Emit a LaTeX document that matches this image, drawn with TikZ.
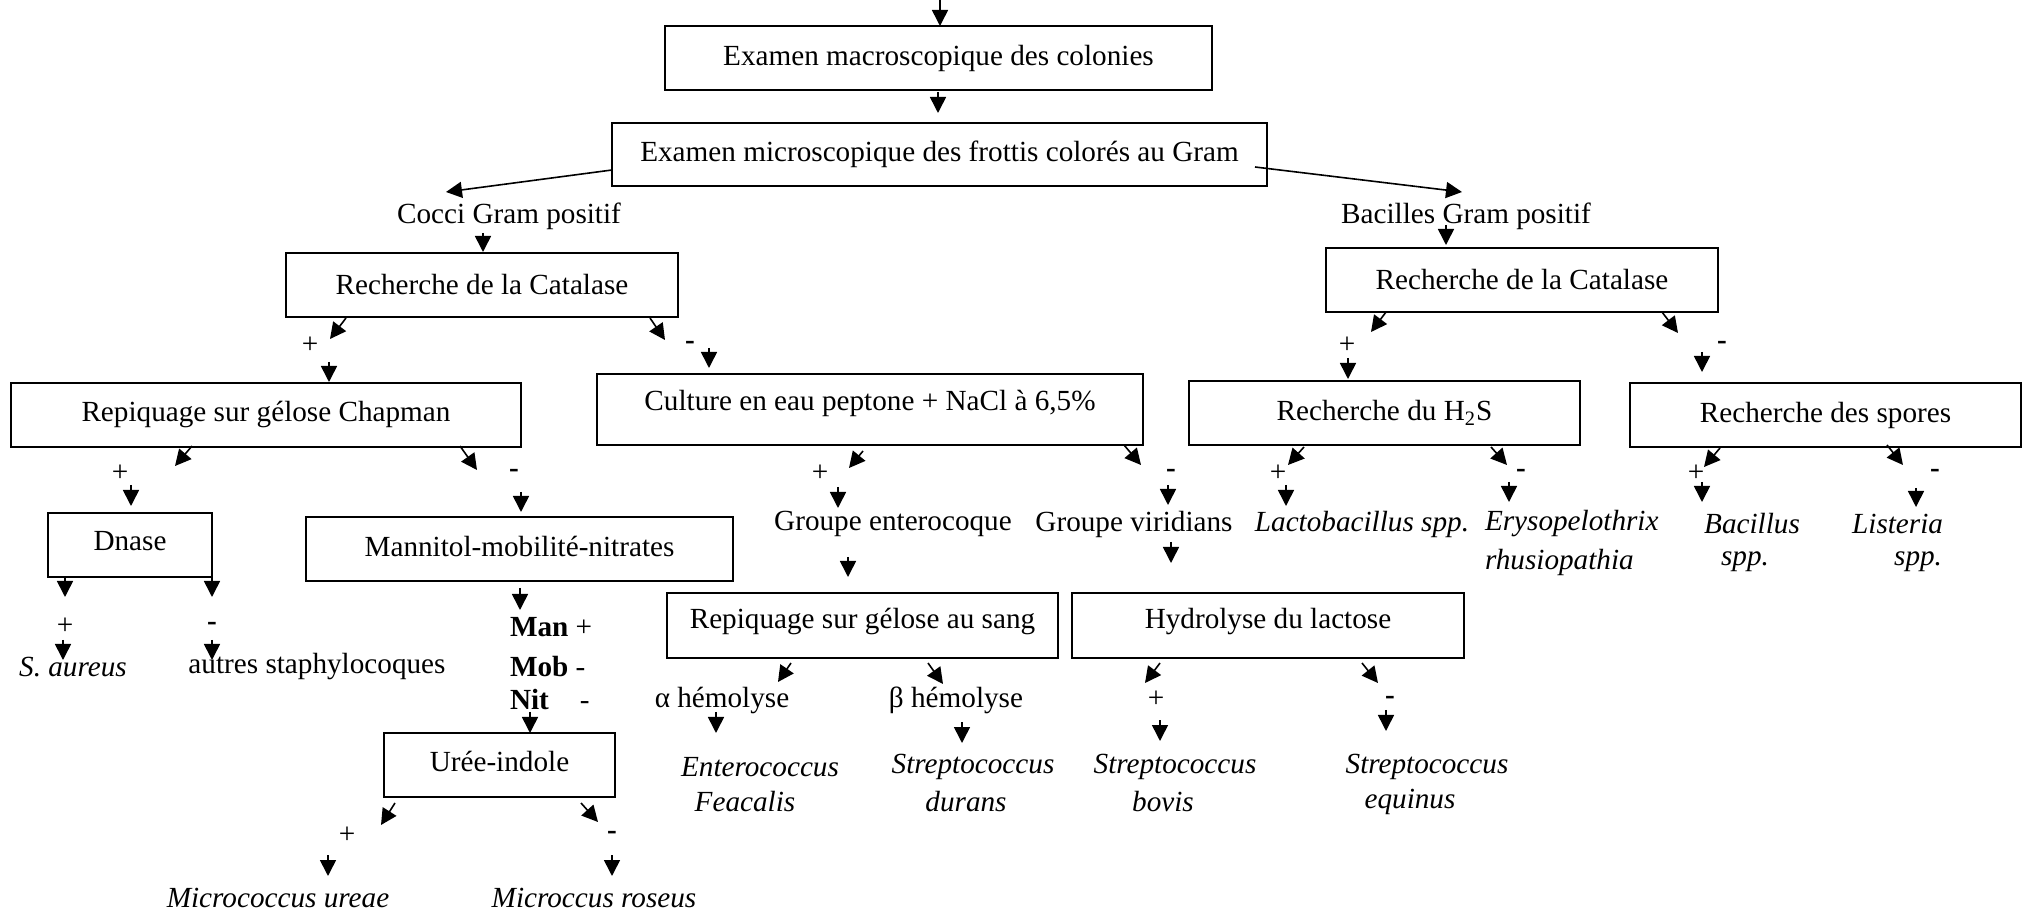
\documentclass[tikz,border=0pt]{standalone}
\usepackage{fontspec}
\setmainfont{Liberation Serif}
\usetikzlibrary{arrows.meta}
\newcommand\mybox[6]{\node[boxn, minimum width=#4*0.5pt, minimum height=#5*0.5pt] (#1) at (#2,#3) {#6};}
\begin{document}
\begin{tikzpicture}[x=0.5pt,y=-0.5pt,
  every node/.style={font=\fontsize{14.6}{17.5}\selectfont, inner sep=0pt, outer sep=0pt},
  boxn/.style={draw, line width=1pt, fill=white},
  arr/.style={line width=0.8pt, -{Triangle[length=8pt,width=8pt]}},
  sp/.style={font=\fontsize{14.6}{17.5}\selectfont\itshape},
  sgn/.style={font=\fontsize{14.6}{17.5}\selectfont\bfseries}
]
\useasboundingbox (0,0) rectangle (2026,914);

% boxes
\mybox{macro}{938.5}{58}{547}{64}{Examen macroscopique des colonies}
\mybox{micro}{939.5}{154.5}{655}{63}{Examen microscopique des frottis colorés au Gram}
\mybox{catL}{482}{285}{392}{64}{Recherche de la Catalase}
\mybox{catR}{1522}{280}{392}{64}{Recherche de la Catalase}
\mybox{chap}{266}{415}{510}{64}{Repiquage sur gélose Chapman}
\mybox{cult}{870}{409.5}{546}{71}{}
\node (culttxt) at (870,403) {Culture en eau peptone + NaCl à 6,5\%};
\mybox{hts}{1384.5}{413}{391}{64}{Recherche du H\textsubscript{2}S}
\mybox{spor}{1825.5}{415}{391}{64}{Recherche des spores}
\mybox{dnase}{130}{545}{164}{64}{}
\node (dnasetxt) at (130,541) {Dnase};
\mybox{mmn}{519.5}{549}{427}{64}{}
\node (mmntxt) at (519.5,546) {Mannitol-mobilité-nitrates};
\mybox{sang}{862.5}{625.5}{391}{65}{}
\node (sangtxt) at (862.5,622) {Repiquage sur gélose au sang};
\mybox{hydro}{1268}{625.5}{392}{65}{}
\node (hydrotxt) at (1268,622) {Hydrolyse du lactose};
\mybox{uree}{499.5}{765}{231}{64}{}
\node (ureetxt) at (499.5,761) {Urée-indole};

% text labels
\node (cocci) at (509,216) {Cocci Gram positif};
\node (bacil) at (1466,216) {Bacilles Gram positif};
\node (gent) at (893,524) {Groupe enterocoque};
\node (gvir) at (1134,524) {Groupe viridians};
\node[sp] (lacto) at (1362,524) {Lactobacillus spp.};
\node[sp, anchor=west] (ery1) at (1485,524) {Erysopelothrix};
\node[sp, anchor=west] (ery2) at (1485,562) {rhusiopathia};
\node[sp] (bac1) at (1752,524) {Bacillus};
\node[sp] (bac2) at (1745,562) {spp.};
\node[sp, anchor=east] (lis1) at (1943,524) {Listeria};
\node[sp, anchor=east] (lis2) at (1942,562) {spp.};
\node[sp] (saur) at (73,667) {S. aureus};
\node (autres) at (317,667) {autres staphylocoques};
\node[anchor=west] (man) at (510,627) {\textbf{Man} +};
\node[anchor=west] (mob) at (510,667) {\textbf{Mob} -};
\node[anchor=west] (nit) at (510,700) {\textbf{Nit}\hspace{15.5pt}-};
\node (alpha) at (722,700) {α hémolyse};
\node (beta) at (956,700) {β hémolyse};
\node[sp] (ent1) at (760,767) {Enterococcus};
\node[sp] (ent2) at (745,802) {Feacalis};
\node[sp] (dur1) at (973,767) {Streptococcus};
\node[sp] (dur2) at (966,802) {durans};
\node[sp] (bov1) at (1175,767) {Streptococcus};
\node[sp] (bov2) at (1163,802) {bovis};
\node[sp] (equ1) at (1427,767) {Streptococcus};
\node[sp] (equ2) at (1410,802) {equinus};
\node[sp] (urea) at (278,898) {Micrococcus ureae};
\node[sp] (rose) at (594,898) {Microccus roseus};

% signs
\node (p1) at (310,345) {+};
\node[sgn] (m1) at (690,345) {-};
\node (p2) at (1347,345) {+};
\node[sgn] (m2) at (1722,345) {-};
\node (p3) at (120,473) {+};
\node[sgn] (m3) at (514,473) {-};
\node (p4) at (820,473) {+};
\node[sgn] (m4) at (1171,473) {-};
\node (p5) at (1278,473) {+};
\node[sgn] (m5) at (1521,473) {-};
\node (p6) at (1696,473) {+};
\node[sgn] (m6) at (1935,473) {-};
\node (p7) at (65,626) {+};
\node[sgn] (m7) at (212,626) {-};
\node (p8) at (347,835) {+};
\node[sgn] (m8) at (612,835) {-};
\node (p9) at (1156,699) {+};
\node[sgn] (m9) at (1390,700) {-};

% arrows
\foreach \a/\b/\c/\d in {
  940/0/940/26, 938/92/938/113,
  612/170/446/192, 1255/167/1462/192,
  483/233/483/252, 1446/225/1446/245,
  346/318/330/339, 329/362/329/382, 650/318/665/340, 709/348/709/368,
  1386/312/1371/332, 1348/358/1348/379, 1662/312/1678/333, 1702/352/1702/372,
  192/446/175/466, 131/485/131/506, 460/446/477/470, 521/492/521/512,
  863/451/849/468, 838/487/838/508, 1124/445/1141/465, 1168/485/1168/505,
  1304/447/1288/465, 1286/485/1286/506, 1491/447/1507/465, 1509/482/1509/502,
  1720/448/1704/467, 1702/482/1702/502, 1887/445/1903/465, 1916/488/1916/507,
  848/557/848/577, 1171/542/1171/563,
  65/578/65/597, 212/578/212/597, 63/640/63/660, 212/640/212/660,
  520/588/520/610, 530/712/530/733,
  395/803/381/825, 328/855/328/876, 581/803/598/822, 612/855/612/876,
  791/663/778/682, 716/712/716/733, 928/663/943/684, 962/722/962/743,
  1160/663/1145/683, 1160/720/1160/741, 1362/663/1378/683, 1386/710/1386/731}
  \draw[arr] (\a,\b) -- (\c,\d);
\end{tikzpicture}
\end{document}
